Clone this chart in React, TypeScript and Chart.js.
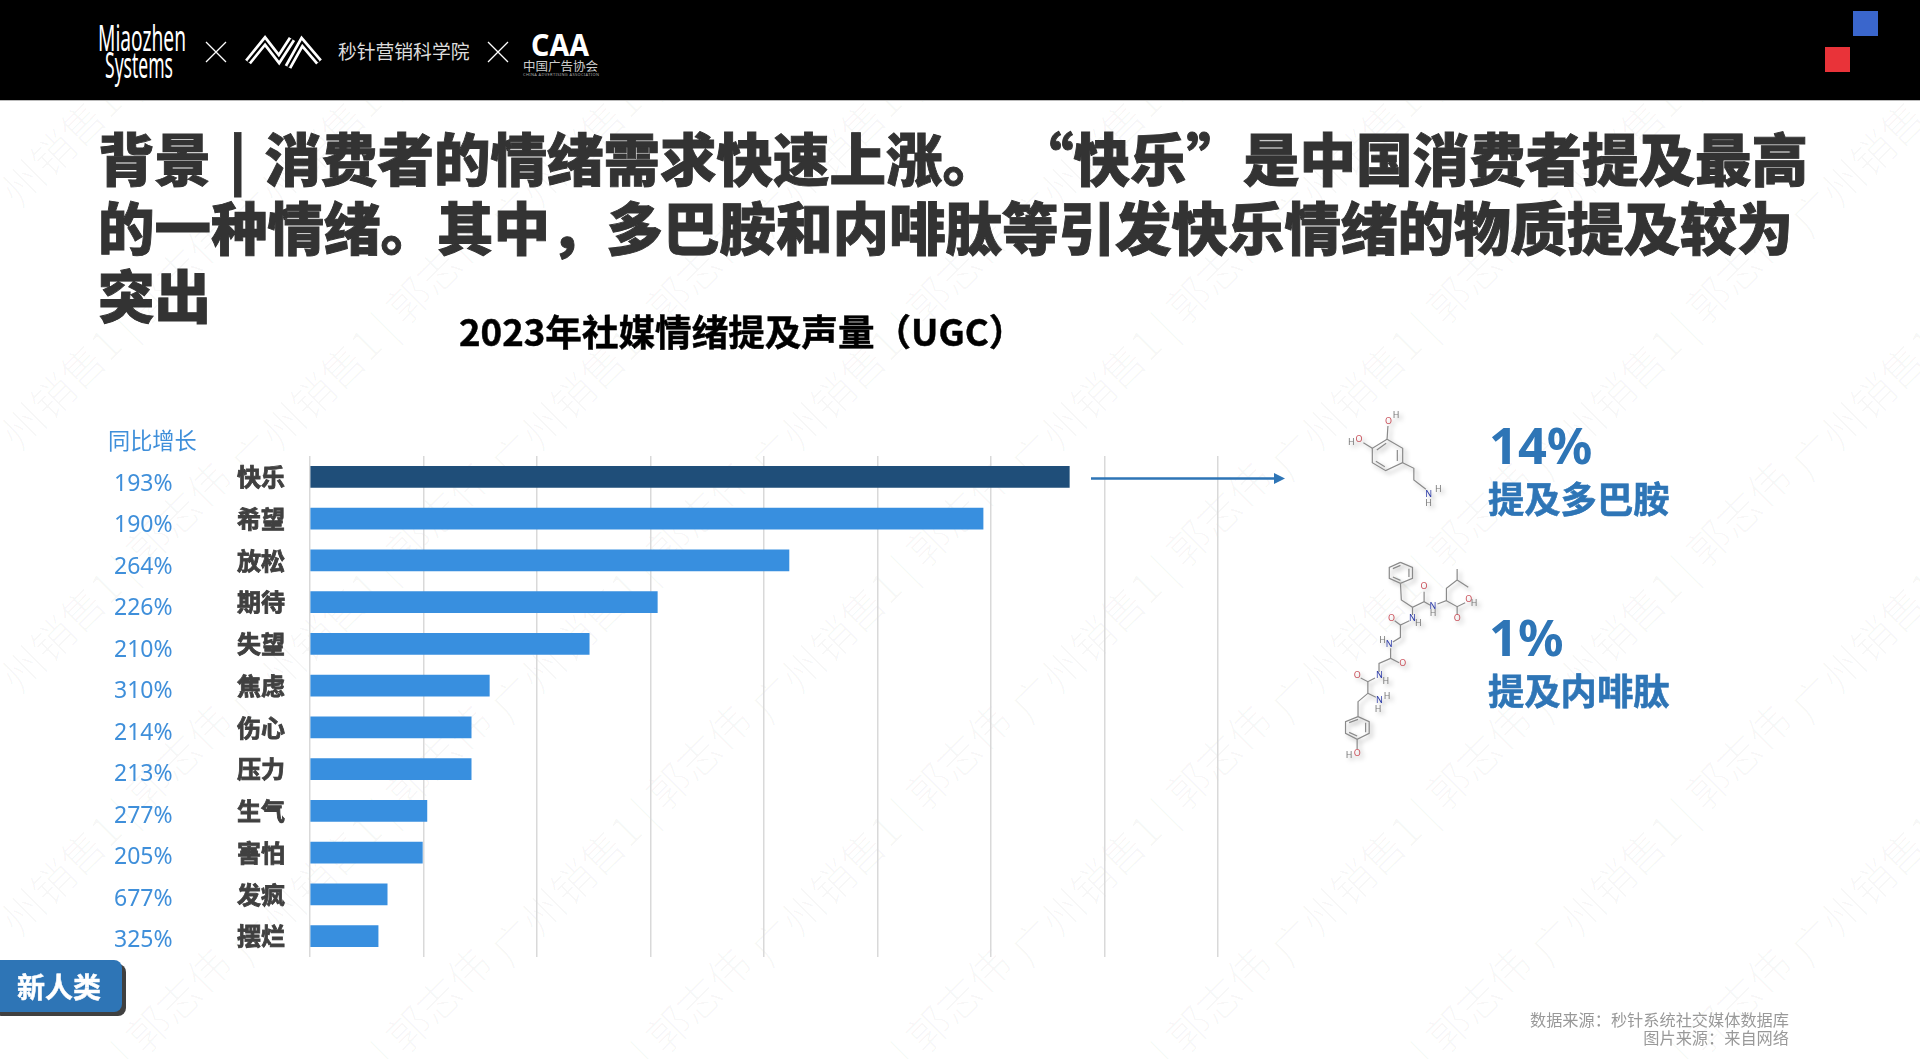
import React, { useEffect, useRef } from "react";
import { Chart, registerables } from "chart.js";

Chart.register(...registerables);

const emotions = ["快乐", "希望", "放松", "期待", "失望", "焦虑", "伤心", "压力", "生气", "害怕", "发疯", "摆烂"];
const volumes = [669, 593, 422, 306, 246, 158, 142, 142, 103, 99, 68, 60];
const growthLabels = ["193%", "190%", "264%", "226%", "210%", "310%", "214%", "213%", "277%", "205%", "677%", "325%"];
const barColors = ["#1F4E79", "#388FDF", "#388FDF", "#388FDF", "#388FDF", "#388FDF", "#388FDF", "#388FDF", "#388FDF", "#388FDF", "#388FDF", "#388FDF"];
const xMax = 800;
const xStep = 100;

const titleLines = [
  "背景 | 消费者的情绪需求快速上涨。 “快乐”是中国消费者提及最高",
  "的一种情绪。其中，多巴胺和内啡肽等引发快乐情绪的物质提及较为",
  "突出",
];
const chartTitle = "2023年社媒情绪提及声量（UGC）";
const growthHeader = "同比增长";
const callouts = [
  { pct: "14%", label: "提及多巴胺", pctY: 445, labelY: 497 },
  { pct: "1%", label: "提及内啡肽", pctY: 637, labelY: 689 },
];
const sources = ["数据来源：秒针系统社交媒体数据库", "图片来源：来自网络"];
const watermark = "广州销售1 | 郭志伟";

const CJK = '"Noto Sans CJK SC", "Noto Sans", sans-serif';

const growthPlugin = {
  id: "growthLabels",
  afterDraw(chart: any) {
    const { ctx, scales } = chart;
    ctx.save();
    ctx.font = `23px "Noto Sans", ${CJK}`;
    ctx.fillStyle = "#3F8FDA";
    ctx.textAlign = "left";
    ctx.textBaseline = "middle";
    growthLabels.forEach((t, i) => {
      const y = scales.y.getPixelForValue(i) + 7.5 - (3 * i) / 11;
      ctx.fillText(t, 114, y);
    });
    ctx.restore();
  },
};

// Molecule drawing coordinates, in a 2.24x / 3x frame anchored at (1050,400)
const mx = (x: number) => 1050 + x / 2.24;
const my = (y: number) => 400 + y / 3;
const dopamineBonds = [
  [[755, 118], [790, 145], [790, 188], [752, 212], [722, 188], [722, 145], [755, 118]],
  [[778, 150], [778, 183]],
  [[750, 200], [730, 184]],
  [[732, 150], [753, 130]],
  [[755, 118], [757, 78]],
  [[722, 145], [702, 128]],
  [[790, 188], [815, 205], [815, 240], [842, 268]],
];
const enkephalinBonds = [
  [[785, 487], [812, 502], [812, 535], [785, 550], [760, 535], [760, 502], [785, 487]],
  [[768, 506], [785, 496]],
  [[804, 506], [804, 531]],
  [[785, 541], [768, 531]],
  [[785, 550], [787, 600], [812, 622], [838, 605], [852, 616]],
  [[838, 605], [838, 575]],
  [[868, 612], [888, 602], [888, 565], [912, 540], [912, 507]],
  [[912, 540], [937, 562]],
  [[888, 602], [912, 620], [930, 608]],
  [[912, 620], [912, 645]],
  [[812, 622], [812, 645]],
  [[805, 662], [785, 675], [772, 662]],
  [[785, 675], [785, 712], [768, 726]],
  [[763, 745], [763, 775], [782, 788]],
  [[763, 775], [737, 790], [737, 816]],
  [[728, 834], [712, 845], [696, 834]],
  [[712, 845], [712, 880], [690, 905], [690, 950]],
  [[712, 880], [730, 892]],
  [[690, 950], [715, 965], [715, 1000], [688, 1018], [662, 1000], [662, 965], [690, 950]],
  [[670, 968], [690, 958]],
  [[707, 968], [707, 997]],
  [[688, 1008], [670, 997]],
  [[688, 1018], [688, 1048]],
];
const atoms: [string, number, number, string][] = [
  ["O", 758, 64, "#c9505a"], ["H", 775, 48, "#777"], ["O", 692, 118, "#c9505a"], ["H", 675, 128, "#777"],
  ["N", 848, 285, "#2b3aa8"], ["H", 870, 268, "#777"], ["H", 848, 312, "#777"],
  ["O", 838, 560, "#c9505a"], ["N", 858, 620, "#2b3aa8"], ["H", 858, 642, "#777"],
  ["O", 938, 598, "#c9505a"], ["H", 950, 612, "#777"], ["O", 912, 657, "#c9505a"],
  ["N", 812, 655, "#2b3aa8"], ["H", 825, 670, "#777"], ["O", 765, 657, "#c9505a"],
  ["N", 760, 735, "#2b3aa8"], ["H", 745, 722, "#777"], ["O", 790, 792, "#c9505a"],
  ["N", 738, 828, "#2b3aa8"], ["H", 752, 845, "#777"], ["O", 688, 828, "#c9505a"],
  ["N", 738, 903, "#2b3aa8"], ["H", 735, 930, "#777"], ["H", 755, 890, "#777"],
  ["O", 688, 1060, "#c9505a"], ["H", 670, 1068, "#777"],
];

const wmCols = Array.from({ length: 11 }, (_, i) => i - 2);
const wmRows = Array.from({ length: 8 }, (_, i) => i - 1);

const abs = (o: React.CSSProperties): React.CSSProperties => ({ position: "absolute", whiteSpace: "nowrap", ...o });

export default function App() {
  const ref = useRef<HTMLCanvasElement>(null);
  useEffect(() => {
    const chart = new Chart(ref.current as HTMLCanvasElement, {
      type: "bar",
      data: {
        labels: emotions,
        datasets: [{ data: volumes, backgroundColor: barColors, barThickness: 21, borderWidth: 0 }],
      },
      options: {
        indexAxis: "y",
        responsive: false,
        animation: false,
        layout: { padding: { left: 0, top: 456, right: 702, bottom: 102 } },
        plugins: { legend: { display: false }, tooltip: { enabled: false }, title: { display: false } },
        scales: {
          x: {
            min: 0,
            max: xMax,
            ticks: { display: false, stepSize: xStep },
            grid: { color: "#D9D9D9", lineWidth: 1.5, drawTicks: false },
            border: { display: false },
          },
          y: {
            afterFit(scale: any) {
              scale.width = 310;
            },
            ticks: {
              autoSkip: false,
              padding: 25,
              color: "#404040",
              textStrokeColor: "#404040",
              textStrokeWidth: 0.8,
              font: { family: CJK, size: 24, weight: "bold" },
            },
            grid: { display: false, drawTicks: false },
            border: { display: false },
          },
        },
      } as any,
      plugins: [growthPlugin],
    });
    return () => chart.destroy();
  }, []);

  return (
    <div style={{ position: "absolute", left: 0, top: 0, width: 1920, height: 1059, overflow: "hidden", background: "#fff", fontFamily: CJK }}>
      <svg width={1920} height={1059} style={{ position: "absolute", left: 0, top: 0 }}>
        {wmCols.map((c) =>
          wmRows.map((r) => {
            const x = 250 + c * 260;
            const y = 239 + r * 243;
            return (
              <text key={`${c}-${r}`} x={x} y={y} transform={`rotate(-45 ${x} ${y})`} fontSize={42} fontWeight={300} fill="#000" fillOpacity={0.035} fontFamily={CJK}>
                {watermark}
              </text>
            );
          })
        )}
      </svg>

      <canvas ref={ref} width={1920} height={1059} style={{ position: "absolute", left: 0, top: 0, width: 1920, height: 1059 }} />

      {/* header band */}
      <div style={abs({ left: 0, top: 0, width: 1920, height: 100, background: "#000", borderBottom: "1px solid #bbb" })} />
      <svg width={1920} height={101} style={{ position: "absolute", left: 0, top: 0 }}>
        <text x={98} y={51} fill="#fff" fontSize={37} fontFamily='"Liberation Sans Narrow", "Noto Sans"' textLength={88} lengthAdjust="spacingAndGlyphs">Miaozhen</text>
        <text x={105} y={78} fill="#fff" fontSize={36} fontFamily='"Liberation Sans Narrow", "Noto Sans"' textLength={68} lengthAdjust="spacingAndGlyphs">Systems</text>
        <path d="M206 42 L226 62 M226 42 L206 62 M488 42 L508 62 M508 42 L488 62" stroke="#fff" strokeWidth={1.3} fill="none" />
        <polyline points="248,62 265,41 279,59 292,39" fill="none" stroke="#fff" strokeWidth={7.5} />
        <polyline points="248,62 265,41 279,59 292,39" fill="none" stroke="#000" strokeWidth={2} />
        <polyline points="288,67 302,42 319,62" fill="none" stroke="#fff" strokeWidth={7.5} />
        <polyline points="288,67 302,42 319,62" fill="none" stroke="#000" strokeWidth={2} />
        <text x={338} y={59} fill="#ddd" fontSize={18.8} fontFamily={CJK}>秒针营销科学院</text>
        <text x={531} y={56} fill="#fff" fontSize={30} fontWeight={700} fontFamily='"Noto Sans"' textLength={58} lengthAdjust="spacingAndGlyphs">CAA</text>
        <text x={523} y={71} fill="#ccc" fontSize={12.5} fontFamily={CJK}>中国广告协会</text>
        <text x={523} y={76} fill="#aaa" fontSize={4} fontFamily='"Noto Sans"' textLength={76}>CHINA ADVERTISING ASSOCIATION</text>
        <rect x={1853} y={11} width={25} height={25} fill="#3A66CC" />
        <rect x={1825} y={47} width={25} height={25} fill="#E93339" />
      </svg>

      {titleLines.map((t, i) => (
        <div key={t} style={abs({ left: 98, top: 122 + i * 68.5, fontSize: 56.5, lineHeight: "68px", fontWeight: 900, color: "#333", height: 68, wordSpacing: 5, WebkitTextStroke: "0.9px #333" })}>
          {t}
        </div>
      ))}
      <div style={abs({ left: 459, top: 307, fontSize: 36.6, lineHeight: "48px", fontWeight: 700, color: "#000", WebkitTextStroke: "0.5px #000" })}>{chartTitle}</div>
      <div style={abs({ left: 108, top: 423, fontSize: 22.2, lineHeight: "32px", color: "#3F8FDA" })}>{growthHeader}</div>

      {/* arrow and molecules */}
      <svg width={1920} height={1059} style={{ position: "absolute", left: 0, top: 0, pointerEvents: "none" }}>
        <line x1={1091} y1={478.5} x2={1276} y2={478.5} stroke="#2E75B6" strokeWidth={2.4} />
        <polygon points="1285,478.5 1274,473 1274,484" fill="#2E75B6" />
        <g style={{ filter: "drop-shadow(3px 3px 2px rgba(0,0,0,.3))" }}>
          {[...dopamineBonds, ...enkephalinBonds].map((b, i) => (
            <polyline key={i} points={b.map((p) => `${mx(p[0])},${my(p[1])}`).join(" ")} fill="none" stroke="#8a8a8a" strokeWidth={1.2} />
          ))}
          {atoms.map(([s, x, y, c], i) => (
            <text key={i} x={mx(x)} y={my(y)} fontSize={9} fill={c} textAnchor="middle" dominantBaseline="middle" fontFamily='"Noto Sans"'>
              {s}
            </text>
          ))}
        </g>
      </svg>

      {callouts.map((c) => (
        <React.Fragment key={c.label}>
          <div style={abs({ left: 1489, top: c.pctY - 35, fontSize: 50.5, lineHeight: "70px", fontWeight: 700, color: "#2E75B6", fontFamily: '"Noto Sans", ' + CJK })}>{c.pct}</div>
          <div style={abs({ left: 1488, top: c.labelY - 25, fontSize: 36.3, lineHeight: "50px", fontWeight: 700, color: "#2E75B6", WebkitTextStroke: "0.6px #2E75B6" })}>{c.label}</div>
        </React.Fragment>
      ))}

      {/* badge */}
      <div style={abs({ left: -10, top: 960, width: 132, height: 52, background: "#2E75B6", borderRadius: 8, boxShadow: "4px 4px 0 #404040" })} />
      <div style={abs({ left: 17, top: 965, fontSize: 28, lineHeight: "42px", fontWeight: 700, color: "#fff", WebkitTextStroke: "0.5px #fff" })}>{"新人类"}</div>

      {/* source note */}
      {sources.map((s, i) => (
        <div key={s} style={abs({ right: 1920 - 1789, top: 1010 + i * 18, fontSize: 16.2, lineHeight: "19px", color: "#999" })}>
          {s}
        </div>
      ))}
    </div>
  );
}
